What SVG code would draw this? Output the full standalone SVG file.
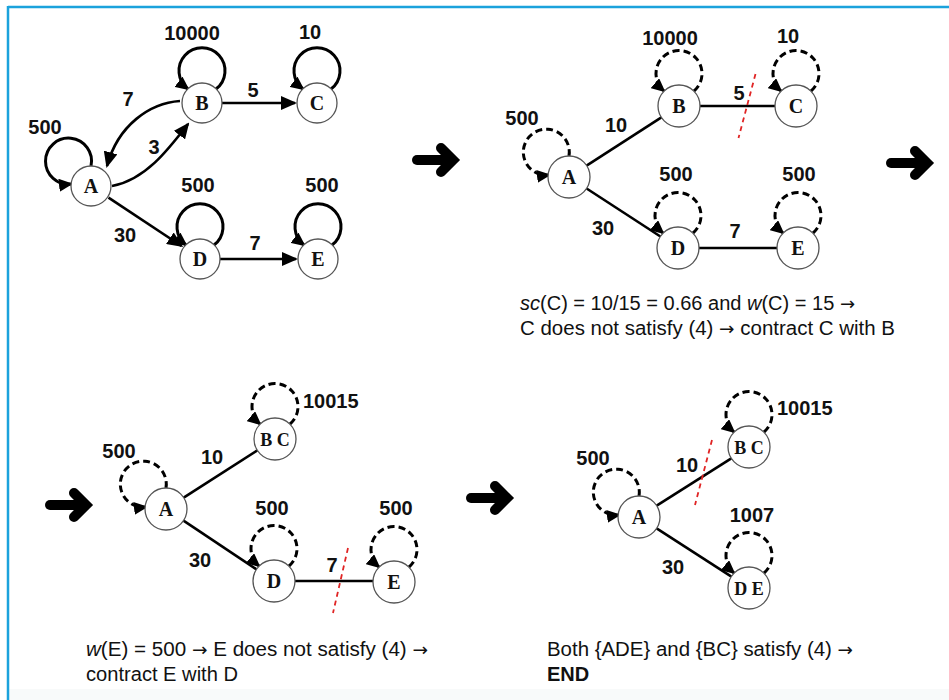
<svg xmlns="http://www.w3.org/2000/svg" width="949" height="700" viewBox="0 0 949 700">
<style>
.node circle{fill:#fff;stroke:#555;stroke-width:1.3}
.lbl{font-family:"Liberation Serif","Times New Roman",serif;font-weight:bold;font-size:20px;text-anchor:middle;fill:#111}
.lbl2{font-family:"Liberation Serif","Times New Roman",serif;font-weight:bold;font-size:18px;text-anchor:middle;fill:#111}
.num{font-family:"Liberation Sans",Arial,sans-serif;font-weight:bold;font-size:20px;text-anchor:middle;fill:#111}
.numl{font-family:"Liberation Sans",Arial,sans-serif;font-weight:bold;font-size:20px;fill:#111}
.edge{stroke:#000;stroke-width:2.6;fill:none}
.loop{stroke:#000;stroke-width:3;fill:none}
.dash{stroke-dasharray:7 4}
.cut{stroke:#e02424;stroke-width:1.8;stroke-dasharray:5 4;fill:none}
.cap{font-family:"Liberation Sans",Arial,sans-serif;font-size:20px;fill:#111}
.arr{font-family:"DejaVu Sans",sans-serif;font-size:18px}
.big{stroke:#000;fill:none;stroke-width:10;stroke-linecap:round}
</style>
<defs>
<marker id="ah" viewBox="0 0 16 14" refX="14" refY="7" markerWidth="16" markerHeight="14" markerUnits="userSpaceOnUse" orient="auto"><path d="M0,0 L16,7 L0,14 z" fill="#000"/></marker>
<marker id="lh" viewBox="0 0 14 13" refX="12" refY="6.5" markerWidth="14" markerHeight="13" markerUnits="userSpaceOnUse" orient="auto"><path d="M0,0 L14,6.5 L0,13 z" fill="#000"/></marker>
</defs>
<rect x="0" y="0" width="949" height="700" fill="#fff"/>
<rect x="9" y="689" width="940" height="11" fill="#f8fafa"/>
<line x1="8" y1="7" x2="949" y2="7" stroke="#1ba2dc" stroke-width="2.5"/>
<line x1="8" y1="6" x2="8" y2="700" stroke="#1ba2dc" stroke-width="2.5"/>

<g id="step-arrows">
<g><path class="big" d="M417 160 H450"/><path class="big" d="M441 148 L453 160 L441 172" style="stroke-linejoin:miter"/></g>
<g><path class="big" d="M891 163 H924"/><path class="big" d="M915 151 L927 163 L915 175" style="stroke-linejoin:miter"/></g>
<g><path class="big" d="M50 505 H83"/><path class="big" d="M74 493 L86 505 L74 517" style="stroke-linejoin:miter"/></g>
<g><path class="big" d="M471 498 H504"/><path class="big" d="M495 486 L507 498 L495 510" style="stroke-linejoin:miter"/></g>
</g>

<g id="connectors">
<!-- panel 1 -->
<path class="edge" d="M112 186 C145 180 168 150 188 124" marker-end="url(#ah)"/>
<path class="edge" d="M180 101 C150 103 118 125 107 166" marker-end="url(#ah)"/>
<path class="edge" d="M222 103 H295" marker-end="url(#ah)"/>
<path class="edge" d="M108.5 197.6 L181.5 246" marker-end="url(#ah)"/>
<path class="edge" d="M220 259 H296" marker-end="url(#ah)"/>
<path class="loop" d="M91 166 A23 23 0 1 0 71 184" marker-end="url(#lh)"/>
<path class="loop" d="M216 89 A23 23 0 1 0 188 89" marker-end="url(#lh)"/>
<path class="loop" d="M331 89 A23 23 0 1 0 303 89" marker-end="url(#lh)"/>
<path class="loop" d="M214 245 A23 23 0 1 0 186 245" marker-end="url(#lh)"/>
<path class="loop" d="M332 245 A23 23 0 1 0 304 245" marker-end="url(#lh)"/>
<!-- panel 2 -->
<path class="edge" d="M586.6 165.6 L661.4 117.4"/>
<path class="edge" d="M700 106 H775"/>
<path class="edge" d="M586.6 188.5 L660.4 236.5"/>
<path class="edge" d="M699 248 H777"/>
<path class="loop dash" d="M569 156 A23 23 0 1 0 549 175" marker-end="url(#lh)"/>
<path class="loop dash" d="M694 91 A23 23 0 1 0 664 91" marker-end="url(#lh)"/>
<path class="loop dash" d="M811 91 A23 23 0 1 0 781 91" marker-end="url(#lh)"/>
<path class="loop dash" d="M693 233 A23 23 0 1 0 663 233" marker-end="url(#lh)"/>
<path class="loop dash" d="M813 233 A23 23 0 1 0 783 233" marker-end="url(#lh)"/>
<path class="cut" d="M755.5 74 L738.5 138"/>
<!-- panel 3 -->
<path class="edge" d="M183.7 497.6 L257.3 450.4"/>
<path class="edge" d="M183.5 520.7 L256.5 569.3"/>
<path class="edge" d="M295 581 H373"/>
<path class="loop dash" d="M166 488 A23 23 0 1 0 146 507" marker-end="url(#lh)"/>
<path class="loop dash" d="M290 424 A23 23 0 1 0 260 424" marker-end="url(#lh)"/>
<path class="loop dash" d="M289 566 A23 23 0 1 0 259 566" marker-end="url(#lh)"/>
<path class="loop dash" d="M409 567 A23 23 0 1 0 379 567" marker-end="url(#lh)"/>
<path class="cut" d="M348 548 L333 613"/>
<!-- panel 4 -->
<path class="edge" d="M656.7 505.7 L731.3 458.3"/>
<path class="edge" d="M656.6 528.4 L731.4 576.6"/>
<path class="loop dash" d="M639 496 A23 23 0 1 0 619 515" marker-end="url(#lh)"/>
<path class="loop dash" d="M764 432 A23 23 0 1 0 734 432" marker-end="url(#lh)"/>
<path class="loop dash" d="M764 573 A23 23 0 1 0 734 573" marker-end="url(#lh)"/>
<path class="cut" d="M712 440 L695 505"/>
</g>

<g id="labels">
<text class="num" x="192" y="40">10000</text>
<text class="num" x="310" y="39">10</text>
<text class="num" x="128" y="106">7</text>
<text class="num" x="45" y="134">500</text>
<text class="num" x="154" y="154">3</text>
<text class="num" x="253" y="97">5</text>
<text class="num" x="198" y="192">500</text>
<text class="num" x="322" y="192">500</text>
<text class="num" x="125" y="242">30</text>
<text class="num" x="255" y="250">7</text>

<text class="num" x="670" y="45">10000</text>
<text class="num" x="788" y="43">10</text>
<text class="num" x="522" y="125">500</text>
<text class="num" x="616" y="132">10</text>
<text class="num" x="739" y="100">5</text>
<text class="num" x="676" y="181">500</text>
<text class="num" x="799" y="181">500</text>
<text class="num" x="603" y="235">30</text>
<text class="num" x="735" y="238">7</text>

<text class="num" x="119" y="458">500</text>
<text class="num" x="212" y="464">10</text>
<text class="numl" x="303" y="408">10015</text>
<text class="num" x="272" y="515">500</text>
<text class="num" x="396" y="515">500</text>
<text class="num" x="200" y="567">30</text>
<text class="num" x="332" y="572">7</text>

<text class="num" x="593" y="465">500</text>
<text class="numl" x="777" y="415">10015</text>
<text class="num" x="687" y="472">10</text>
<text class="num" x="752" y="522">1007</text>
<text class="num" x="673" y="574">30</text>
</g>

<g id="p1-A" class="node"><circle cx="91" cy="186" r="20"/><text class="lbl" x="91" y="193">A</text></g>
<g id="p1-B" class="node"><circle cx="202" cy="103" r="20"/><text class="lbl" x="202" y="110">B</text></g>
<g id="p1-C" class="node"><circle cx="317" cy="103" r="20"/><text class="lbl" x="317" y="110">C</text></g>
<g id="p1-D" class="node"><circle cx="200" cy="259" r="20"/><text class="lbl" x="200" y="266">D</text></g>
<g id="p1-E" class="node"><circle cx="318" cy="259" r="20"/><text class="lbl" x="318" y="266">E</text></g>

<g id="p2-A" class="node"><circle cx="569" cy="177" r="21"/><text class="lbl" x="569" y="184">A</text></g>
<g id="p2-B" class="node"><circle cx="679" cy="106" r="21"/><text class="lbl" x="679" y="113">B</text></g>
<g id="p2-C" class="node"><circle cx="796" cy="106" r="21"/><text class="lbl" x="796" y="113">C</text></g>
<g id="p2-D" class="node"><circle cx="678" cy="248" r="21"/><text class="lbl" x="678" y="255">D</text></g>
<g id="p2-E" class="node"><circle cx="798" cy="248" r="21"/><text class="lbl" x="798" y="255">E</text></g>

<g id="p3-A" class="node"><circle cx="166" cy="509" r="21"/><text class="lbl" x="166" y="516">A</text></g>
<g id="p3-BC" class="node"><circle cx="275" cy="439" r="21"/><text class="lbl2" x="275" y="445.5">B C</text></g>
<g id="p3-D" class="node"><circle cx="274" cy="581" r="21"/><text class="lbl" x="274" y="588">D</text></g>
<g id="p3-E" class="node"><circle cx="394" cy="582" r="21"/><text class="lbl" x="394" y="589">E</text></g>

<g id="p4-A" class="node"><circle cx="639" cy="517" r="21"/><text class="lbl" x="639" y="524">A</text></g>
<g id="p4-BC" class="node"><circle cx="749" cy="447" r="21"/><text class="lbl2" x="749" y="453.5">B C</text></g>
<g id="p4-DE" class="node"><circle cx="749" cy="588" r="21"/><text class="lbl2" x="749" y="594.5">D E</text></g>

<g id="captions">
<text class="cap" x="520" y="310" textLength="335" lengthAdjust="spacingAndGlyphs"><tspan font-style="italic">sc</tspan>(C) = 10/15 = 0.66 and <tspan font-style="italic">w</tspan>(C) = 15 <tspan class="arr">→</tspan></text>
<text class="cap" x="520" y="335" textLength="375" lengthAdjust="spacingAndGlyphs">C does not satisfy (4) <tspan class="arr">→</tspan> contract C with B</text>
<text class="cap" x="86" y="656" textLength="342" lengthAdjust="spacingAndGlyphs"><tspan font-style="italic">w</tspan>(E) = 500 <tspan class="arr">→</tspan> E does not satisfy (4) <tspan class="arr">→</tspan></text>
<text class="cap" x="86" y="681" textLength="152" lengthAdjust="spacingAndGlyphs">contract E with D</text>
<text class="cap" x="547" y="656" textLength="306" lengthAdjust="spacingAndGlyphs">Both {ADE} and {BC} satisfy (4) <tspan class="arr">→</tspan></text>
<text class="cap" x="547" y="681" font-weight="bold">END</text>
</g>
</svg>
